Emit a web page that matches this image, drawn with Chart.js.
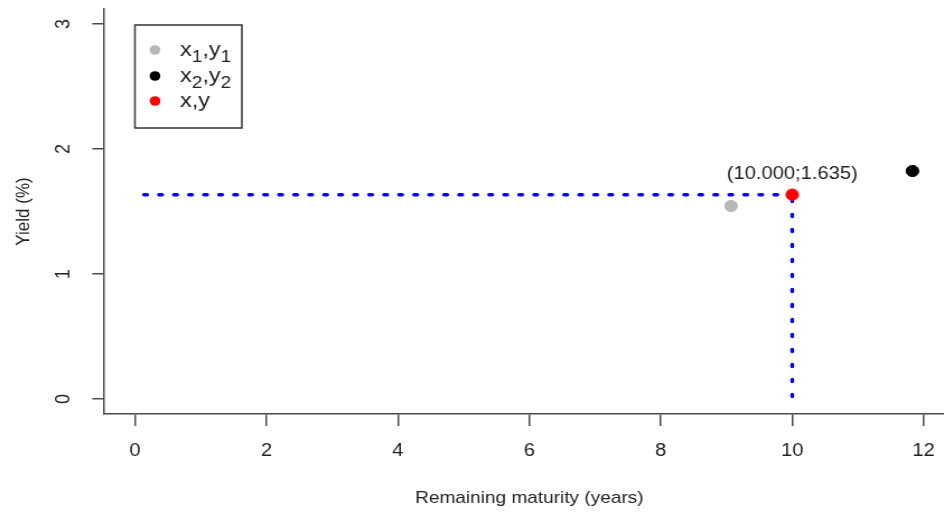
<!DOCTYPE html>
<html>
<head>
<meta charset="utf-8">
<script src="https://cdn.jsdelivr.net/npm/chart.js@4.4.1/dist/chart.umd.min.js"></script>
<style>
  html, body { margin: 0; padding: 0; background: #fff; overflow: hidden; width: 944px; height: 515px; }
  /* the plot is drawn a bit narrower and stretched sideways; its right end runs past the page */
  #wrap { width: 853px; height: 515px; transform: scaleX(1.1198); transform-origin: 0 0; }
</style>
</head>
<body>
<div id="wrap"><canvas id="chart" width="853" height="515"></canvas></div>
<script>
// known points (x1,y1), (x2,y2) and the interpolated point (x,y)
const pointLabels = ["x1,y1", "x2,y2", "x,y"];
const pointX = [9.07, 11.83, 10.0];
const pointY = [1.544, 1.824, 1.635];

const xTicks = [0, 2, 4, 6, 8, 10, 12];
const yTicks = [0, 1, 2, 3];

const pointColors = ["#b8b8b8", "#000000", "#ff0000"];
const guideColor = "#0000ff";
const axisColor = "#4a4a4a";
const textColor = "#222";
const fontFamily = "'Liberation Sans', Arial, sans-serif";

const xi = pointX[2];
const yi = pointY[2];

const pointSets = pointLabels.map((label, i) => ({
  label: label,
  data: [{ x: pointX[i], y: pointY[i] }],
  backgroundColor: pointColors[i],
  borderColor: pointColors[i],
  pointRadius: 5.6,
  pointBorderWidth: 1,
}));

const guideStyle = {
  showLine: true,
  borderColor: guideColor,
  borderWidth: 3.5,
  borderCapStyle: "round",
  pointRadius: 0,
};

// drawn from y axis across to the point, and from the x axis up to it
const guideSets = [
  Object.assign({ label: "h", data: [{ x: 0, y: yi }, { x: xi, y: yi }],
    borderDash: [2.75, 10.65], borderDashOffset: 5.4 }, guideStyle),
  Object.assign({ label: "v", data: [{ x: xi, y: 0 }, { x: xi, y: yi }],
    borderDash: [2, 13], borderDashOffset: 12.5 }, guideStyle),
];

function drawSubscripted(ctx, text, x, y) {
  let cx = x;
  for (const part of text.match(/\d+|\D+/g)) {
    const sub = /\d/.test(part);
    ctx.font = (sub ? 17 : 21) + "px " + fontFamily;
    ctx.fillText(part, cx, sub ? y + 6 : y);
    cx += ctx.measureText(part).width;
  }
}

// fixed axis boxes, no extra room for overflowing tick labels
function fixBox(s, size) {
  if (s.isHorizontal()) s.height = size; else s.width = size;
  s.paddingTop = s.paddingBottom = s.paddingLeft = s.paddingRight = 0;
}

const overlay = {
  id: "overlay",
  afterDraw(chart) {
    const { ctx, scales } = chart;
    ctx.save();

    // coordinate label above the interpolated point
    ctx.fillStyle = textColor;
    ctx.font = "18px " + fontFamily;
    ctx.textAlign = "center";
    ctx.textBaseline = "middle";
    const label = "(" + xi.toFixed(3) + ";" + yi.toFixed(3) + ")";
    ctx.fillText(label, scales.x.getPixelForValue(xi), scales.y.getPixelForValue(yi) - 20.5);

    // legend box
    ctx.strokeStyle = "#333";
    ctx.lineWidth = 1.5;
    ctx.strokeRect(120.5, 25, 95.5, 103);
    const rows = [50, 76, 101];
    ctx.textAlign = "left";
    ctx.textBaseline = "alphabetic";
    pointSets.forEach((ds, i) => {
      ctx.fillStyle = ds.backgroundColor;
      ctx.beginPath();
      ctx.arc(138.4, rows[i], 4.8, 0, Math.PI * 2);
      ctx.fill();
      ctx.fillStyle = textColor;
      drawSubscripted(ctx, ds.label, 160.7, rows[i] + 5.5);
    });
    ctx.restore();
  },
};

new Chart(document.getElementById("chart"), {
  type: "scatter",
  data: { datasets: pointSets.concat(guideSets) },
  options: {
    responsive: false,
    animation: false,
    events: [],
    layout: { autoPadding: false, padding: { top: 9, right: 0, bottom: 0, left: 0 } },
    plugins: { legend: { display: false }, tooltip: { enabled: false } },
    scales: {
      x: {
        type: "linear",
        min: -0.48,
        max: 12.48,
        afterBuildTicks: (s) => { s.ticks = xTicks.map((v) => ({ value: v })); },
        afterFit: (s) => fixBox(s, 101),
        grid: { drawOnChartArea: false, tickLength: 12, tickColor: axisColor, lineWidth: 1.5 },
        border: { color: axisColor, width: 1.5 },
        ticks: { color: textColor, font: { family: fontFamily, size: 18 }, padding: 14, maxRotation: 0, autoSkip: false },
        title: { display: true, text: "Remaining maturity (years)", color: textColor,
          font: { family: fontFamily, size: 17 }, padding: { top: 0, bottom: 6 } },
      },
      y: {
        type: "linear",
        min: -0.12,
        max: 3.12,
        afterBuildTicks: (s) => { s.ticks = yTicks.map((v) => ({ value: v })); },
        afterFit: (s) => fixBox(s, 92.4),
        grid: { drawOnChartArea: false, tickLength: 10, tickColor: axisColor, lineWidth: 1.5 },
        border: { color: axisColor, width: 1.5 },
        ticks: { color: textColor, font: { family: fontFamily, size: 18 }, padding: 20,
          minRotation: 90, maxRotation: 90, crossAlign: "center", autoSkip: false },
        title: { display: true, text: "Yield (%)", color: textColor,
          font: { family: fontFamily, size: 17 }, padding: { top: 11, bottom: 0 } },
      },
    },
  },
  plugins: [overlay],
});
</script>
</body>
</html>
